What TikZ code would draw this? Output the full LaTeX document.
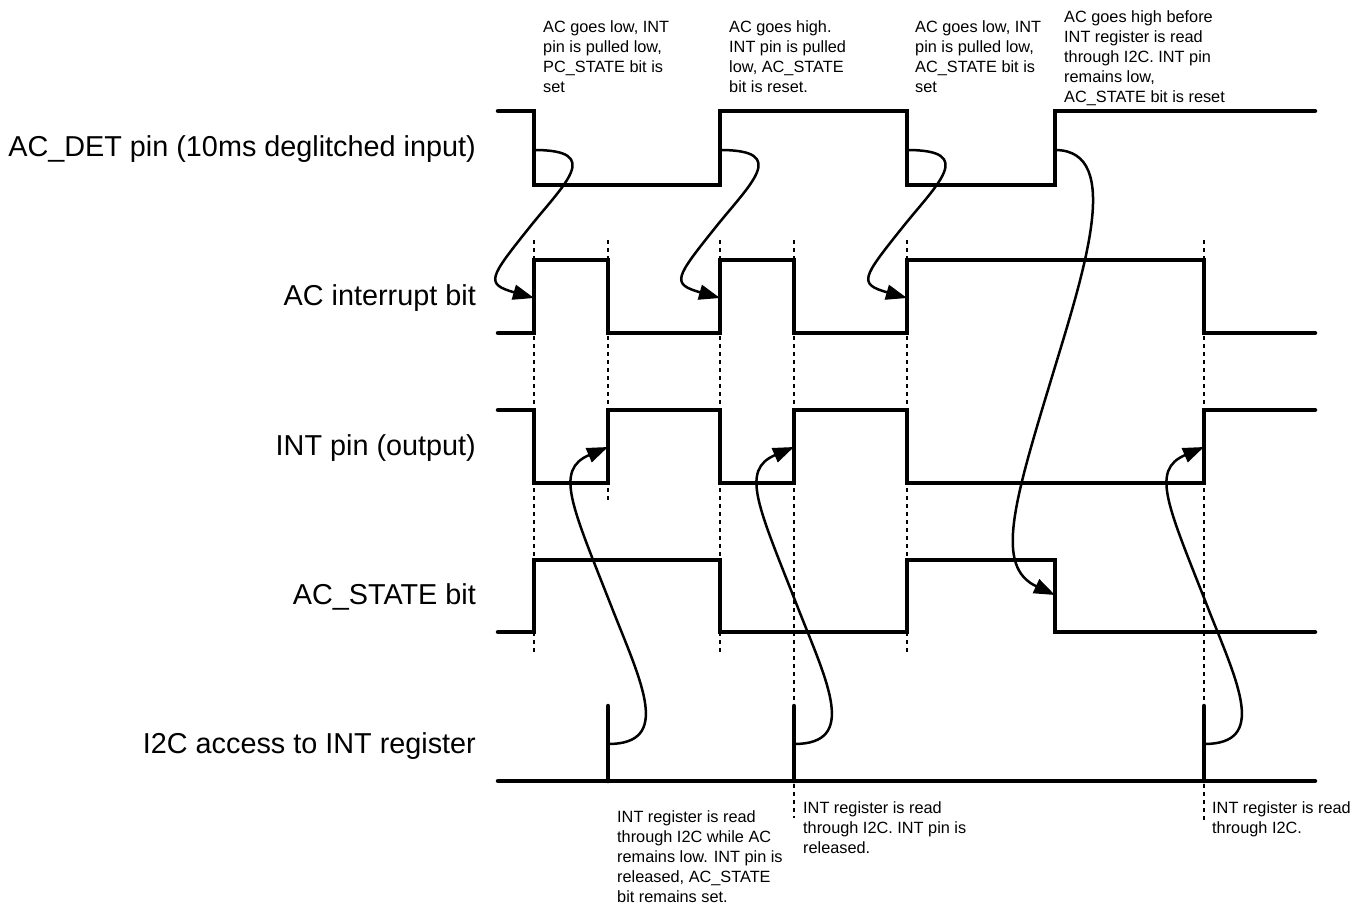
\documentclass[tikz,border=0pt]{standalone}
\usepackage{fontspec}
\setmainfont{Liberation Sans}
\usetikzlibrary{arrows.meta}
\tikzset{
  sig/.style={line width=4.5pt, line join=miter, line cap=round},
  guide/.style={line width=2pt, dash pattern=on 4pt off 4pt},
  curvearrow/.style={line width=2.5pt, -{Triangle[length=21pt,width=15pt]}},
  siglabel/.style={anchor=base east, inner sep=0pt, font=\fontsize{28.8}{32}\selectfont},
  note/.style={anchor=north west, inner sep=0pt, align=left, font=\fontsize{16.3}{20}\selectfont}
}
\begin{document}
\begin{tikzpicture}[x=1pt,y=-1pt]
\useasboundingbox (0,0) rectangle (1366,903);
% guide lines
\draw[guide] (534,240) -- (534,652);
\draw[guide] (608,240) -- (608,503);
\draw[guide] (720,240) -- (720,652);
\draw[guide] (794,240) -- (794,818);
\draw[guide] (907,240) -- (907,652);
\draw[guide] (1204,240) -- (1204,820);
% signals
\draw[sig] (498,111) -| (534,185) -| (720,111) -| (907,185) -| (1055,111) -- (1315,111);
\draw[sig] (498,333) -| (534,260) -| (608,333) -| (720,260) -| (794,333) -| (907,260) -| (1204,333) -- (1315,333);
\draw[sig] (498,410) -| (534,483) -| (608,410) -| (720,483) -| (794,410) -| (907,483) -| (1204,410) -- (1315,410);
\draw[sig] (498,632) -| (534,560) -| (720,632) -| (907,560) -| (1055,632) -- (1315,632);
\draw[sig] (498,781) -- (1315,781);
\draw[sig] (608,706) -- (608,781);
\draw[sig] (794,706) -- (794,781);
\draw[sig] (1204,706) -- (1204,781);
% labels
\node[siglabel] (l1) at (476,156) {AC\_DET pin (10ms deglitched input)};
\node[siglabel] (l2) at (476,305) {AC interrupt bit};
\node[siglabel] (l3) at (476,455) {INT pin (output)};
\node[siglabel] (l4) at (476,604) {AC\_STATE bit};
\node[siglabel] (l5) at (476,753) {I2C access to INT register};
% curve end points
\foreach \n/\x in {1/534,2/720,3/907}{
  \coordinate (d\n s) at (\x,150);
  \coordinate (d\n m) at ({\x-5},228);
  \coordinate (d\n e) at (\x,298);
}
\foreach \n/\x in {1/608,2/794,3/1204}{
  \coordinate (r\n s) at (\x,744);
  \coordinate (r\n m) at ({\x+4},608);
  \coordinate (r\n e) at (\x,447);
}
\coordinate (h s) at (1055,150);
\coordinate (h m) at (1051,380);
\coordinate (h e) at (1055,595);
% curved arrows
\foreach \n in {1,2,3}{
  \draw[curvearrow] (d\n s) .. controls +(70,0) and +(35,-44) .. (d\n m)
     .. controls +(-40,50) and +(-49,-14) .. (d\n e);
  \draw[curvearrow] (r\n s) .. controls +(64,0) and +(30,76) .. (r\n m)
     .. controls +(-40,-102) and +(-54,23) .. (r\n e);
}
\draw[curvearrow] (h s) .. controls +(70,0) and +(32,-106) .. (h m)
     .. controls +(-38,125) and +(-60,-28) .. (h e);
% notes
\node[note] (n1) at (543,20) {AC goes low, INT\\pin is pulled low,\\PC\_STATE bit is\\set};
\node[note] (n2) at (729,20) {AC goes high.\\INT pin is pulled\\low, AC\_STATE\\bit is reset.};
\node[note] (n3) at (915,20) {AC goes low, INT\\pin is pulled low,\\AC\_STATE bit is\\set};
\node[note] (n4) at (1064,10) {AC goes high before\\INT register is read\\through I2C. INT pin\\remains low,\\AC\_STATE bit is reset};
\node[note] (n5) at (617,810) {INT register is read\\through I2C while AC\\remains low. INT pin is\\released, AC\_STATE\\bit remains set.};
\node[note] (n6) at (803,801.6) {INT register is read\\through I2C. INT pin is\\released.};
\node[note] (n7) at (1212,801.6) {INT register is read\\through I2C.};
\end{tikzpicture}
\end{document}
